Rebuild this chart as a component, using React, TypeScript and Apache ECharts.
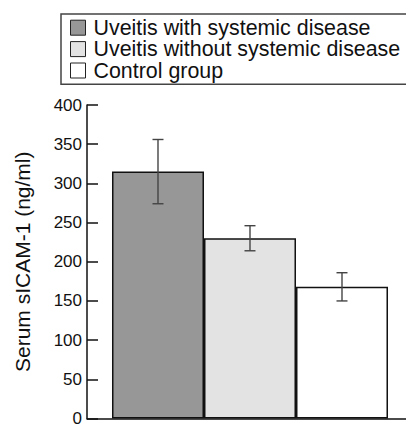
import React, { useEffect, useRef } from "react";
import * as echarts from "echarts";

const categories = [
  "Uveitis with systemic disease",
  "Uveitis without systemic disease",
  "Control group",
];
const means = [315, 230, 168];
const errors = [41, 16, 18];
const colors = ["#979797", "#e3e3e3", "#ffffff"];
const yTicks = { min: 0, max: 400, interval: 50 };
const yAxisTitle = "Serum sICAM-1 (ng/ml)";

const FONT = "Liberation Sans, Arial, Helvetica, sans-serif";

export default function App() {
  const ref = useRef<HTMLDivElement>(null);
  useEffect(() => {
    if (!ref.current) return;
    const chart = echarts.init(ref.current, undefined, { renderer: "svg" });
    const barSeries = categories.map((name, i) => ({
      name,
      type: "bar",
      barWidth: 92,
      barGap: "-100%",
      data: [[i, means[i]]],
      itemStyle: { color: colors[i], borderColor: "#111", borderWidth: 1.5 },
      z: 2,
    }));
    const errData = means.map((m, i) => [i, m - errors[i], m + errors[i]]);
    chart.setOption({
      animation: false,
      textStyle: { fontFamily: FONT },
      legend: {
        orient: "vertical",
        left: 61,
        top: 14,
        padding: [3, 20, 3, 9],
        itemGap: 0,
        itemWidth: 15,
        itemHeight: 15,
        icon: "rect",
        borderColor: "#444",
        borderWidth: 1.5,
        itemStyle: { borderColor: "#222", borderWidth: 1 },
        textStyle: {
          fontFamily: FONT,
          fontSize: 21.4,
          color: "#111",
          lineHeight: 21.4,
          padding: [0, 0, 0, 3],
        },
        data: categories,
      },
      grid: { left: 87, right: 0, top: 105, bottom: 1, containLabel: false },
      xAxis: {
        type: "value",
        min: -0.7717,
        max: 2.6957,
        axisLine: { show: true, onZero: false, lineStyle: { color: "#111", width: 1.5 } },
        axisTick: { show: false },
        axisLabel: { show: false },
        splitLine: { show: false },
      },
      yAxis: {
        type: "value",
        min: yTicks.min,
        max: yTicks.max,
        interval: yTicks.interval,
        name: yAxisTitle,
        nameLocation: "middle",
        nameGap: 54,
        nameTextStyle: { fontFamily: FONT, fontSize: 21, color: "#111" },
        axisLine: { show: true, onZero: false, lineStyle: { color: "#111", width: 1.5 } },
        axisTick: { show: true, inside: true, length: 11, lineStyle: { color: "#111", width: 1.5 } },
        axisLabel: { fontFamily: FONT, fontSize: 17, color: "#111", margin: 5 },
        splitLine: { show: false },
      },
      series: [
        ...barSeries,
        {
          type: "custom",
          name: "error",
          data: errData,
          z: 5,
          encode: { x: 0, y: [1, 2] },
          renderItem: (params: any, api: any) => {
            const x = api.value(0);
            const lo = api.coord([x, api.value(1)]);
            const hi = api.coord([x, api.value(2)]);
            const hw = 5.5;
            const t = 1.4;
            const st = () => ({ fill: "#444" });
            return {
              type: "group",
              children: [
                { type: "rect", shape: { x: lo[0] - t / 2, y: hi[1], width: t, height: lo[1] - hi[1] }, style: st() },
                { type: "rect", shape: { x: hi[0] - hw, y: hi[1] - t / 2, width: hw * 2, height: t }, style: st() },
                { type: "rect", shape: { x: lo[0] - hw, y: lo[1] - t / 2, width: hw * 2, height: t }, style: st() },
              ],
            };
          },
        },
      ],
    });
    return () => chart.dispose();
  }, []);
  return (
    <div
      ref={ref}
      style={{ position: "absolute", left: 0, top: 0, width: 406, height: 427, background: "#fff" }}
    />
  );
}
